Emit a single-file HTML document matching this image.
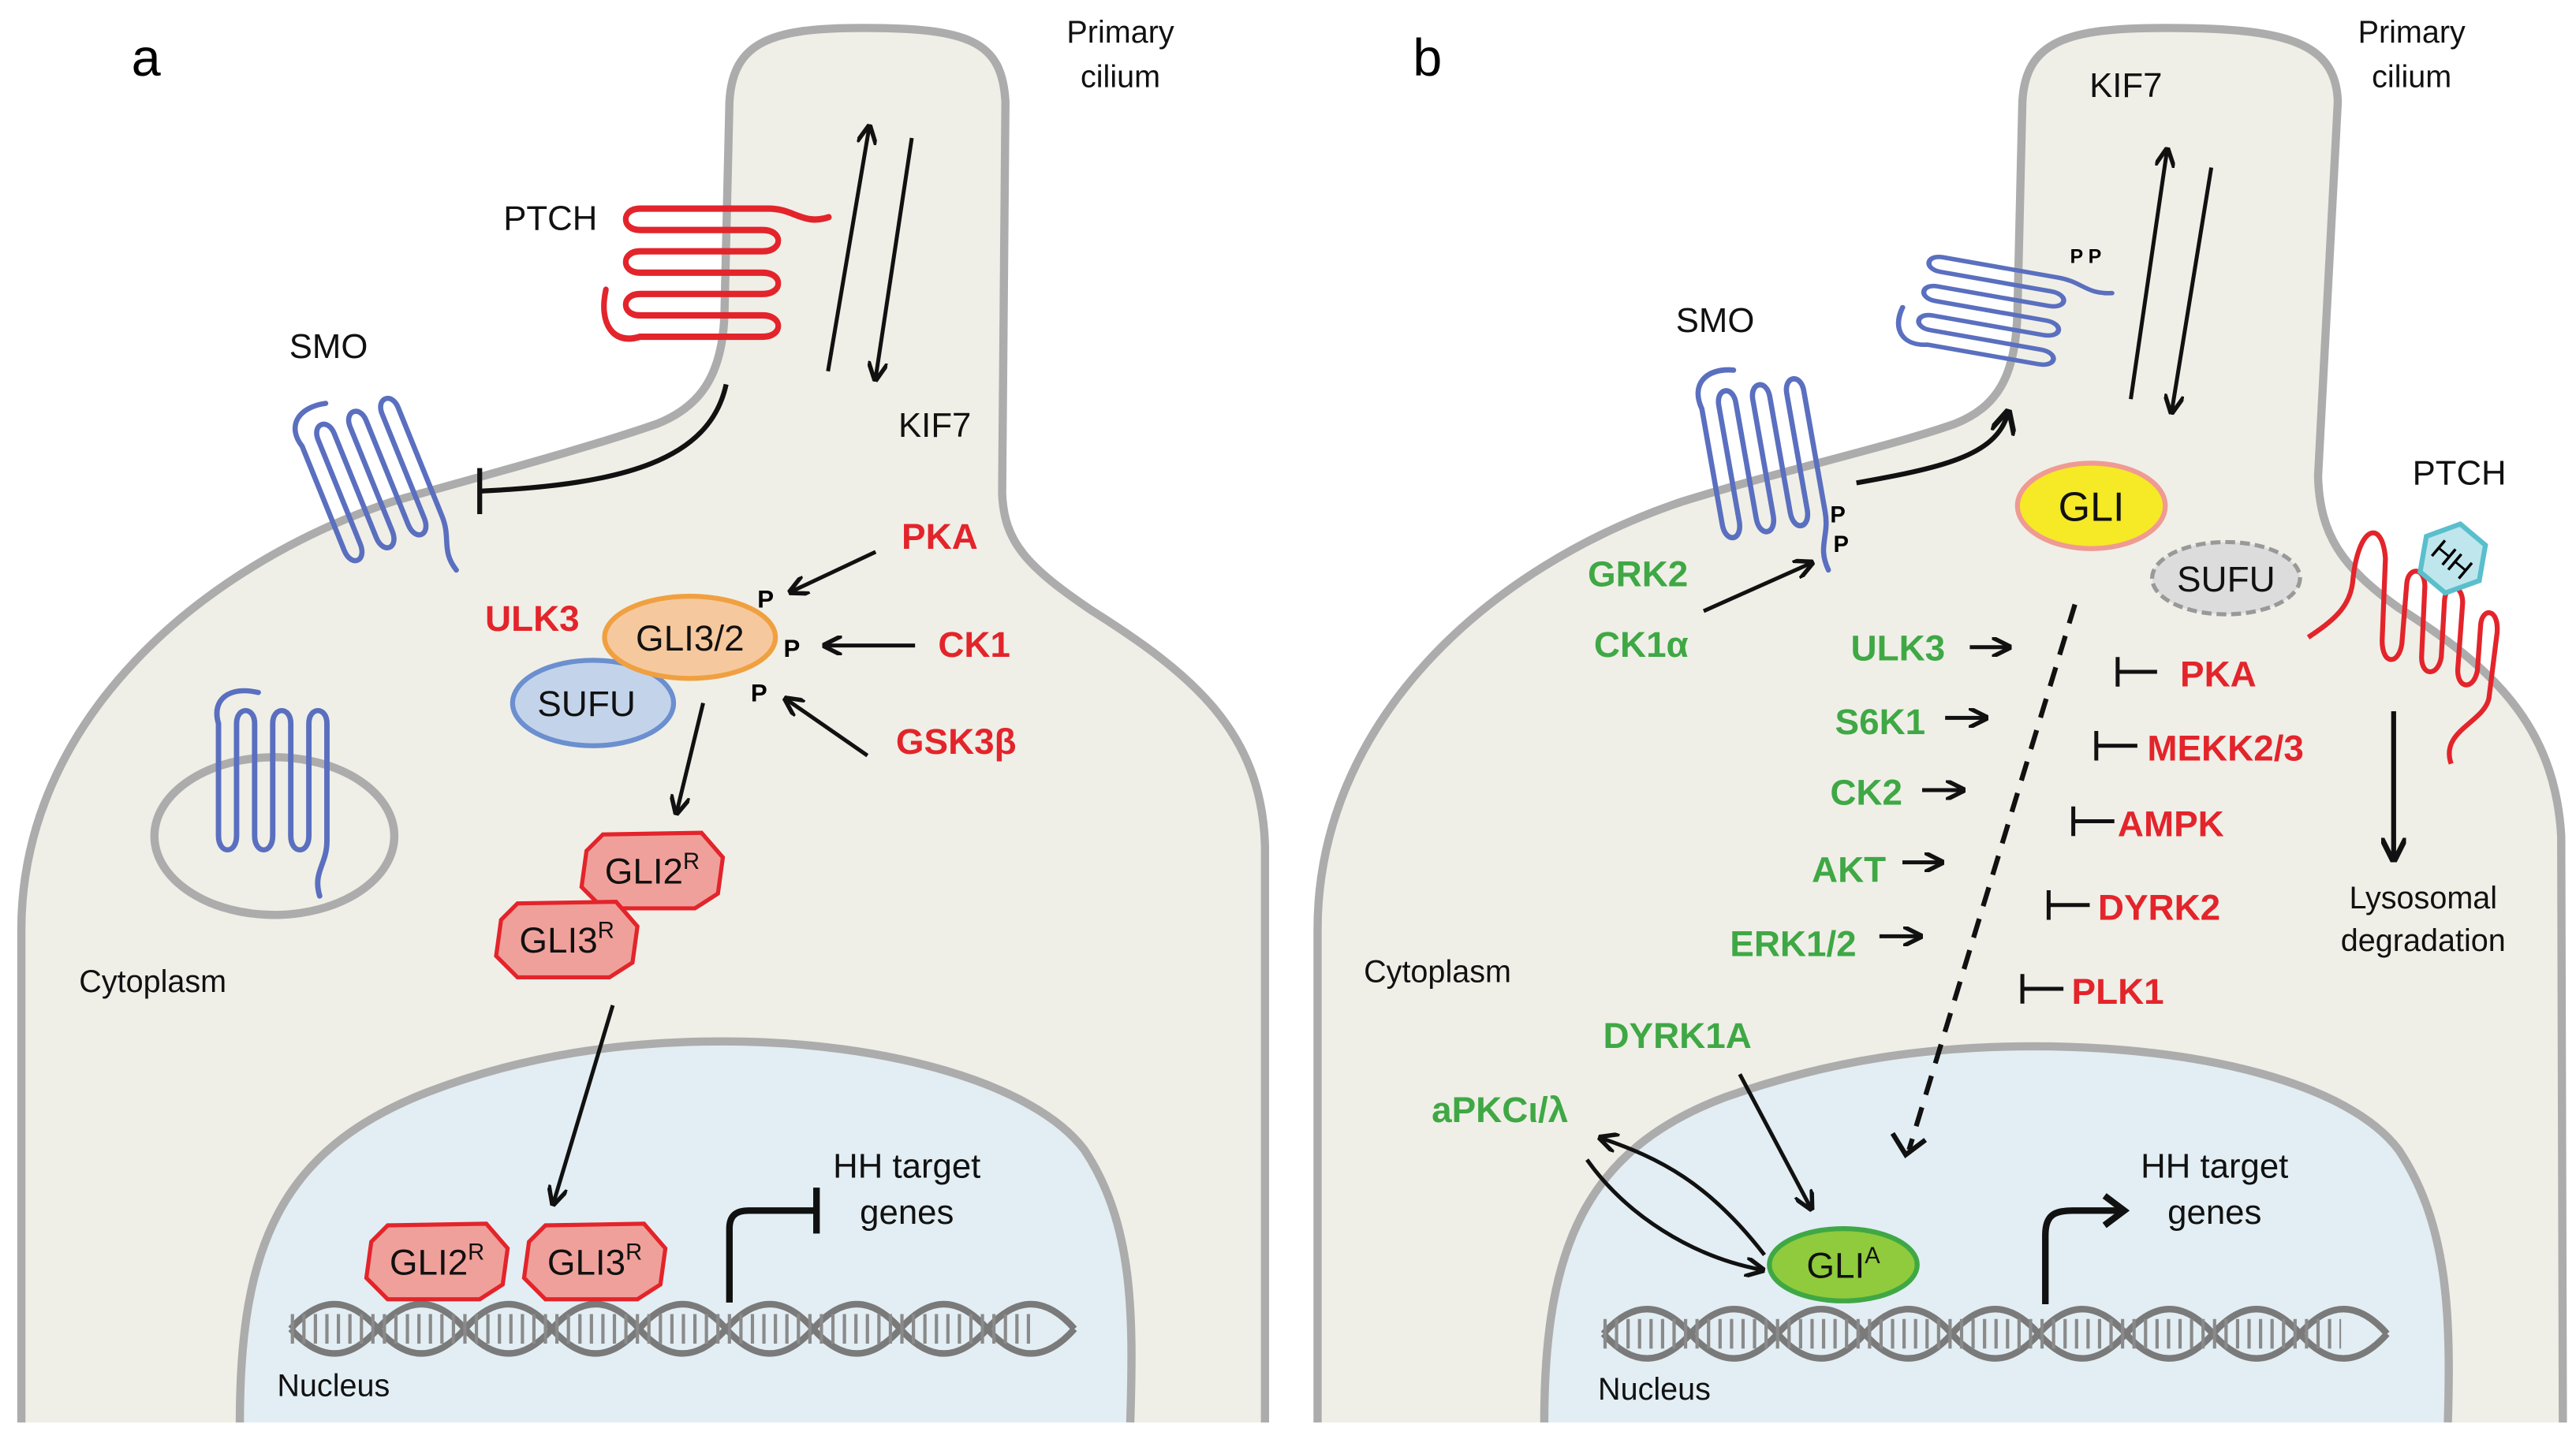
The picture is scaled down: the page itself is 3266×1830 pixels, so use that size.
<!DOCTYPE html>
<html><head><meta charset="utf-8"><style>
html,body{margin:0;padding:0;background:#fff}
svg{display:block}
text{font-family:"Liberation Sans",Arial,sans-serif}
.lb{font-size:21px;fill:#111}
.sm{font-size:19px;fill:#111}
.r{font-size:22px;font-weight:bold;fill:#e3242b}
.g{font-size:22px;font-weight:bold;fill:#3fa845}
.ln{stroke:#111;stroke-width:2.4;fill:none}
</style></head><body>
<svg width="3266" height="1830" viewBox="0 0 1568 878.5" xmlns="http://www.w3.org/2000/svg" preserveAspectRatio="none">
<defs>
<marker id="ah" viewBox="0 0 10 10" refX="8" refY="5" markerWidth="5" markerHeight="5" orient="auto-start-reverse"><path d="M0,0 L10,5 L0,10" fill="none" stroke="#111" stroke-width="2.2"/></marker>
<path id="tm" fill="none" stroke-width="3" stroke-linecap="round" d="M22,-8 C6,-12 -4,-4 0,10 L0,75 C0,86 10,86 10,75 L10,10 C10,0 20,0 20,10 L20,75 C20,86 30,86 30,75 L30,10 C30,0 40,0 40,10 L40,75 C40,86 50,86 50,75 L50,10 C50,0 60,0 60,10 L60,78 C60,92 52,96 56,110"/>
<g id="oct"><polygon points="-30,-22 30,-23 43,-8 40,14 26,23 -30,23 -43,10 -40,-12" fill="#f0a09a" stroke="#e3242b" stroke-width="2.5"/></g>
</defs>
<rect width="1568" height="878.5" fill="#fff"/>

<!-- Panel a cell -->
<path d="M13,866 L13,566 C13,440 120,345 240,305 C300,288 360,272 400,258 C425,248 440,230 441,190 L444,62 C446,25 470,17 525,17 C590,17 610,25 612,62 L610,300 C611,330 625,345 665,372 C725,410 768,445 770,515 L770,866" fill="#efefe7" stroke="#acacac" stroke-width="5"/>
<path d="M146,866 C146,760 170,700 260,665 C320,642 380,634 440,634 C540,634 630,660 660,700 C690,745 690,800 688,866" fill="#e2eef3" stroke="#acacac" stroke-width="5"/>
<ellipse cx="167" cy="509" rx="73" ry="48" fill="none" stroke="#acacac" stroke-width="5"/>
<rect x="0" y="866" width="1568" height="13" fill="#fff"/>

<text x="80" y="46" style="font-size:32px">a</text>
<text x="682" y="26" text-anchor="middle" class="sm">Primary</text>
<text x="682" y="53" text-anchor="middle" class="sm">cilium</text>
<text x="335" y="140" text-anchor="middle" class="lb">PTCH</text>
<text x="200" y="218" text-anchor="middle" class="lb">SMO</text>
<text x="569" y="266" text-anchor="middle" class="lb">KIF7</text>
<text x="93" y="604" text-anchor="middle" class="sm">Cytoplasm</text>
<text x="203" y="850" text-anchor="middle" class="sm">Nucleus</text>
<text x="552" y="717" text-anchor="middle" class="lb">HH target</text>
<text x="552" y="745" text-anchor="middle" class="lb">genes</text>

<use href="#tm" stroke="#e3242b" transform="translate(378,205) rotate(-90) scale(1.3,1.15)"/>
<use href="#tm" stroke="#5a6fbf" transform="translate(180,262) rotate(-22) scale(1.05)"/>
<use href="#tm" stroke="#5a6fbf" transform="translate(133,430) scale(1.1,1.05)"/>

<path class="ln" d="M504,226 L529,78" marker-end="url(#ah)"/>
<path class="ln" d="M555,84 L533,230" marker-end="url(#ah)"/>
<path d="M442,234 C432,280 380,295 292,299" fill="none" stroke="#111" stroke-width="3"/>
<line x1="292" y1="285" x2="292" y2="313" stroke="#111" stroke-width="3"/>

<text x="324" y="384" text-anchor="middle" class="r">ULK3</text>
<ellipse cx="361" cy="428" rx="49" ry="26" fill="#c3d4ea" stroke="#6b8fcf" stroke-width="3"/>
<text x="357" y="436" text-anchor="middle" class="lb" style="font-size:22px">SUFU</text>
<ellipse cx="420" cy="388" rx="52" ry="25" fill="#f6c89e" stroke="#f0a040" stroke-width="3"/>
<text x="420" y="396" text-anchor="middle" class="lb" style="font-size:22px">GLI3/2</text>
<text x="466" y="370" text-anchor="middle" style="font-size:15px;font-weight:bold">P</text>
<text x="482" y="400" text-anchor="middle" style="font-size:15px;font-weight:bold">P</text>
<text x="462" y="427" text-anchor="middle" style="font-size:15px;font-weight:bold">P</text>
<text x="572" y="334" text-anchor="middle" class="r">PKA</text>
<text x="593" y="400" text-anchor="middle" class="r">CK1</text>
<text x="582" y="459" text-anchor="middle" class="r">GSK3β</text>
<path class="ln" d="M533,336 L482,360" marker-end="url(#ah)"/>
<path class="ln" d="M557,393 L503,393" marker-end="url(#ah)"/>
<path class="ln" d="M528,460 L479,426" marker-end="url(#ah)"/>
<path class="ln" d="M428,428 L412,494" marker-end="url(#ah)"/>

<use href="#oct" transform="translate(397,530)"/>
<text x="397" y="538" text-anchor="middle" class="lb" style="font-size:22px">GLI2<tspan dy="-9" style="font-size:14px">R</tspan></text>
<use href="#oct" transform="translate(345,572)"/>
<text x="345" y="580" text-anchor="middle" class="lb" style="font-size:22px">GLI3<tspan dy="-9" style="font-size:14px">R</tspan></text>
<path class="ln" d="M373,612 L337,732" marker-end="url(#ah)"/>

<!-- DNA a -->
<g fill="none" stroke="#7a7a7a" stroke-width="4">
<path d="M177,809 q26.5,-30 53,0 t53,0 t53,0 t53,0 t53,0 t53,0 t53,0 t53,0 t53,0"/>
<path d="M177,809 q26.5,30 53,0 t53,0 t53,0 t53,0 t53,0 t53,0 t53,0 t53,0 t53,0"/>
<line x1="177" y1="809" x2="630" y2="809" stroke-width="18" stroke-dasharray="2 5" stroke="#8a8a8a"/>
</g>
<use href="#oct" transform="translate(266,768)"/>
<text x="266" y="776" text-anchor="middle" class="lb" style="font-size:22px">GLI2<tspan dy="-9" style="font-size:14px">R</tspan></text>
<use href="#oct" transform="translate(362,768)"/>
<text x="362" y="776" text-anchor="middle" class="lb" style="font-size:22px">GLI3<tspan dy="-9" style="font-size:14px">R</tspan></text>
<path d="M444,793 L444,748 C444,740 448,737 456,737 L496,737" fill="none" stroke="#111" stroke-width="4"/>
<line x1="497" y1="723" x2="497" y2="751" stroke="#111" stroke-width="4"/>

<!-- Panel b cell -->
<path d="M802,866 L802,566 C802,440 905,345 1025,305 C1090,285 1150,272 1190,258 C1215,248 1227,230 1228,190 L1231,62 C1233,25 1258,17 1318,17 C1390,17 1422,25 1423,62 L1411,290 C1412,325 1425,345 1460,370 C1515,405 1555,440 1559,509 L1560,866" fill="#efefe7" stroke="#acacac" stroke-width="5"/>
<path d="M940,866 C940,760 965,700 1050,668 C1115,645 1175,637 1238,637 C1340,637 1430,660 1460,700 C1490,745 1492,800 1490,866" fill="#e2eef3" stroke="#acacac" stroke-width="5"/>
<rect x="784" y="866" width="784" height="13" fill="#fff"/>

<text x="860" y="46" style="font-size:32px">b</text>
<text x="1468" y="26" text-anchor="middle" class="sm">Primary</text>
<text x="1468" y="53" text-anchor="middle" class="sm">cilium</text>
<text x="1294" y="59" text-anchor="middle" class="lb">KIF7</text>
<text x="1044" y="202" text-anchor="middle" class="lb">SMO</text>
<text x="1497" y="295" text-anchor="middle" class="lb">PTCH</text>
<text x="875" y="598" text-anchor="middle" class="sm">Cytoplasm</text>
<text x="1007" y="852" text-anchor="middle" class="sm">Nucleus</text>
<text x="1348" y="717" text-anchor="middle" class="lb">HH target</text>
<text x="1348" y="745" text-anchor="middle" class="lb">genes</text>
<text x="1475" y="553" text-anchor="middle" class="sm">Lysosomal</text>
<text x="1475" y="579" text-anchor="middle" class="sm">degradation</text>

<use href="#tm" stroke="#5a6fbf" transform="translate(1034,238) rotate(-10) scale(1.05,1.1)"/>
<use href="#tm" stroke="#5a6fbf" transform="translate(1163,208) rotate(-80) scale(0.9,1.05)"/>
<text x="1260" y="160" style="font-size:12px;font-weight:bold">P P</text>
<text x="1114" y="318" style="font-size:14px;font-weight:bold">P</text>
<text x="1116" y="336" style="font-size:14px;font-weight:bold">P</text>
<path d="M1130,294 C1180,285 1215,278 1222,252" fill="none" stroke="#111" stroke-width="3" marker-end="url(#ah)"/>
<path class="ln" d="M1297,243 L1319,92" marker-end="url(#ah)"/>
<path class="ln" d="M1346,102 L1322,250" marker-end="url(#ah)"/>

<text x="997" y="357" text-anchor="middle" class="g">GRK2</text>
<text x="999" y="400" text-anchor="middle" class="g">CK1α</text>
<path class="ln" d="M1037,372 L1102,343" marker-end="url(#ah)"/>

<ellipse cx="1273" cy="308" rx="45" ry="26" fill="#f6e926" stroke="#ef9a92" stroke-width="3"/>
<text x="1273" y="317" text-anchor="middle" class="lb" style="font-size:25px">GLI</text>
<ellipse cx="1355" cy="352" rx="45" ry="22" fill="#dcdcdc" stroke="#999" stroke-width="2.5" stroke-dasharray="6 3"/>
<text x="1355" y="360" text-anchor="middle" class="lb" style="font-size:22px">SUFU</text>
<path d="M1263,368 L1162,700" fill="none" stroke="#111" stroke-width="3" stroke-dasharray="12 8"/>
<path d="M1152,690 L1160,703 L1172,694" fill="none" stroke="#111" stroke-width="3"/>

<g text-anchor="end">
<text x="1184" y="402" class="g">ULK3</text>
<text x="1172" y="447" class="g">S6K1</text>
<text x="1158" y="490" class="g">CK2</text>
<text x="1148" y="537" class="g">AKT</text>
<text x="1130" y="582" class="g">ERK1/2</text>
</g>
<g stroke="#111" stroke-width="2.4" fill="none">
<path d="M1199,394 L1222,394" marker-end="url(#ah)"/>
<path d="M1184,437 L1208,437" marker-end="url(#ah)"/>
<path d="M1170,481 L1194,481" marker-end="url(#ah)"/>
<path d="M1158,525 L1181,525" marker-end="url(#ah)"/>
<path d="M1144,570 L1168,570" marker-end="url(#ah)"/>
<path d="M1289,409 L1313,409 M1289,400 L1289,418"/>
<path d="M1276,454 L1301,454 M1276,445 L1276,463"/>
<path d="M1262,500 L1287,500 M1262,491 L1262,509"/>
<path d="M1247,551 L1272,551 M1247,542 L1247,560"/>
<path d="M1231,602 L1256,602 M1231,593 L1231,611"/>
</g>
<text x="1327" y="418" class="r">PKA</text>
<text x="1307" y="463" class="r">MEKK2/3</text>
<text x="1289" y="509" class="r">AMPK</text>
<text x="1277" y="560" class="r">DYRK2</text>
<text x="1261" y="611" class="r">PLK1</text>

<!-- PTCH b -->
<path d="M1405,388 C1420,378 1430,370 1432,355 C1435,320 1450,315 1452,340 L1450,390 C1450,405 1460,405 1462,392 L1465,355 C1466,345 1476,345 1476,357 L1474,400 C1474,412 1484,412 1486,400 L1488,365 C1489,355 1499,355 1499,367 L1496,408 C1496,420 1506,420 1508,408 L1510,380 C1511,370 1521,370 1520,385 L1515,425 C1512,440 1485,445 1492,465" fill="none" stroke="#e3242b" stroke-width="3"/>
<g transform="translate(1493,340) rotate(40)"><polygon points="-10,-19 10,-19 21,0 10,19 -10,19 -21,0" fill="#bfe6ec" stroke="#59bfcc" stroke-width="3"/><text x="0" y="7" text-anchor="middle" style="font-size:18px">HH</text></g>
<path d="M1457,433 L1457,522" stroke="#111" stroke-width="3" fill="none" marker-end="url(#ah)"/>

<text x="1021" y="638" text-anchor="middle" class="g">DYRK1A</text>
<text x="913" y="683" text-anchor="middle" class="g">aPKCι/λ</text>
<path class="ln" d="M1059,654 L1102,735" marker-end="url(#ah)"/>
<path class="ln" d="M1074,764 C1040,720 1010,705 975,693" marker-end="url(#ah)"/>
<path class="ln" d="M966,706 C990,740 1030,765 1072,773" marker-end="url(#ah)"/>

<!-- DNA b -->
<g fill="none" stroke="#7a7a7a" stroke-width="4">
<path d="M976,812 q26.5,-30 53,0 t53,0 t53,0 t53,0 t53,0 t53,0 t53,0 t53,0 t53,0"/>
<path d="M976,812 q26.5,30 53,0 t53,0 t53,0 t53,0 t53,0 t53,0 t53,0 t53,0 t53,0"/>
<line x1="976" y1="812" x2="1425" y2="812" stroke-width="18" stroke-dasharray="2 5" stroke="#8a8a8a"/>
</g>
<ellipse cx="1122" cy="770" rx="45" ry="22" fill="#8fcb3c" stroke="#3fa845" stroke-width="3"/>
<text x="1122" y="778" text-anchor="middle" class="lb" style="font-size:22px">GLI<tspan dy="-9" style="font-size:14px">A</tspan></text>
<path d="M1245,794 L1245,752 C1245,740 1250,737 1262,737 L1290,737" fill="none" stroke="#111" stroke-width="4"/>
<path d="M1281,728 L1293,737 L1281,746" fill="none" stroke="#111" stroke-width="4"/>
</svg>
</body></html>
